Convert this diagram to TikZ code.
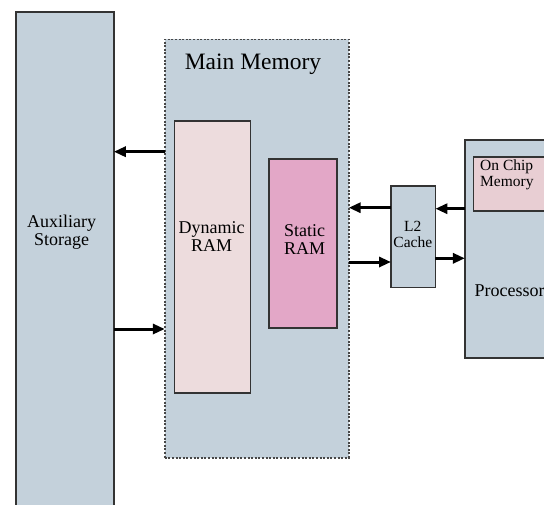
\documentclass[tikz,border=0pt]{standalone}
\usepackage{fontspec}
\setmainfont{Liberation Serif}
\newfontfamily\tnr{Liberation Serif}
\usetikzlibrary{arrows.meta}
\definecolor{bluegray}{HTML}{C4D1DB}
\definecolor{dynpink}{HTML}{EDDCDD}
\definecolor{statpink}{HTML}{E3A7C7}
\definecolor{chippink}{HTML}{E8CED3}
\definecolor{edge}{HTML}{333333}
\tikzset{
  blk/.style={draw=edge, line width=1.8pt, inner sep=0pt, outer sep=0pt},
  dotbox/.style={draw=edge!90, line width=1.6pt, dash pattern=on 2pt off 1.6pt, inner sep=0pt, outer sep=0pt},
  lbl/.style={inner sep=0pt, align=center, font=\tnr\fontsize{18}{18}\selectfont},
  lblsm/.style={inner sep=0pt, align=center, font=\tnr\fontsize{15.5}{16}\selectfont},
  arr/.style={line width=3pt, -{Triangle[length=12pt,width=10pt]}}
}
\begin{document}
\begin{tikzpicture}[x=1pt,y=-1pt]
\useasboundingbox (0,0) rectangle (544,504);
\clip (0,0) rectangle (544,504);
% boxes
\node[blk, fill=bluegray, minimum width=98.2pt, minimum height=520pt] (aux) at (64.7,272) {};
\node[dotbox, fill=bluegray, minimum width=183.9pt, minimum height=418.4pt] (main) at (256.75,248.5) {};
\node[blk, fill=dynpink, minimum width=76pt, minimum height=272.6pt] (dyn) at (212.5,257) {};
\node[blk, fill=statpink, minimum width=68pt, minimum height=169pt] (stat) at (303.2,243.2) {};
\node[blk, fill=bluegray, minimum width=44.4pt, minimum height=101.5pt] (l2) at (413.2,236.75) {};
\node[blk, fill=bluegray, minimum width=155pt, minimum height=217.7pt] (proc) at (542.4,248.85) {};
\node[blk, fill=chippink, minimum width=100pt, minimum height=54.3pt] (chip) at (523.5,183.85) {};
% labels
\node[lbl] (auxt) at (61.7,232) {Auxiliary\\Storage};
\node[inner sep=0pt, font=\tnr\fontsize{23.5}{24}\selectfont] (maint) at (253,64) {Main Memory};
\node[lbl] (dynt) at (211.6,237) {Dynamic\\RAM};
\node[lbl] (statt) at (304.6,239.5) {Static\\RAM};
\node[lblsm] (l2t) at (412.8,234) {L2\\Cache};
\node[lblsm, align=left, anchor=west] (chipt) at (480,175) {On Chip\\Memory};
\node[lbl, anchor=west] (proct) at (474.5,291) {Processor};
% connectors
\draw[arr] (main.west |- 0,151.7) -- (aux.east |- 0,151.7);
\draw[arr] (aux.east |- 0,329) -- (main.west |- 0,329);
\draw[arr] (l2.west |- 0,207.7) -- (main.east |- 0,207.7);
\draw[arr] (main.east |- 0,262) -- (l2.west |- 0,262);
\draw[arr] (proc.west |- 0,208.7) -- (l2.east |- 0,208.7);
\draw[arr] (l2.east |- 0,258.3) -- (proc.west |- 0,258.3);
\end{tikzpicture}
\end{document}
